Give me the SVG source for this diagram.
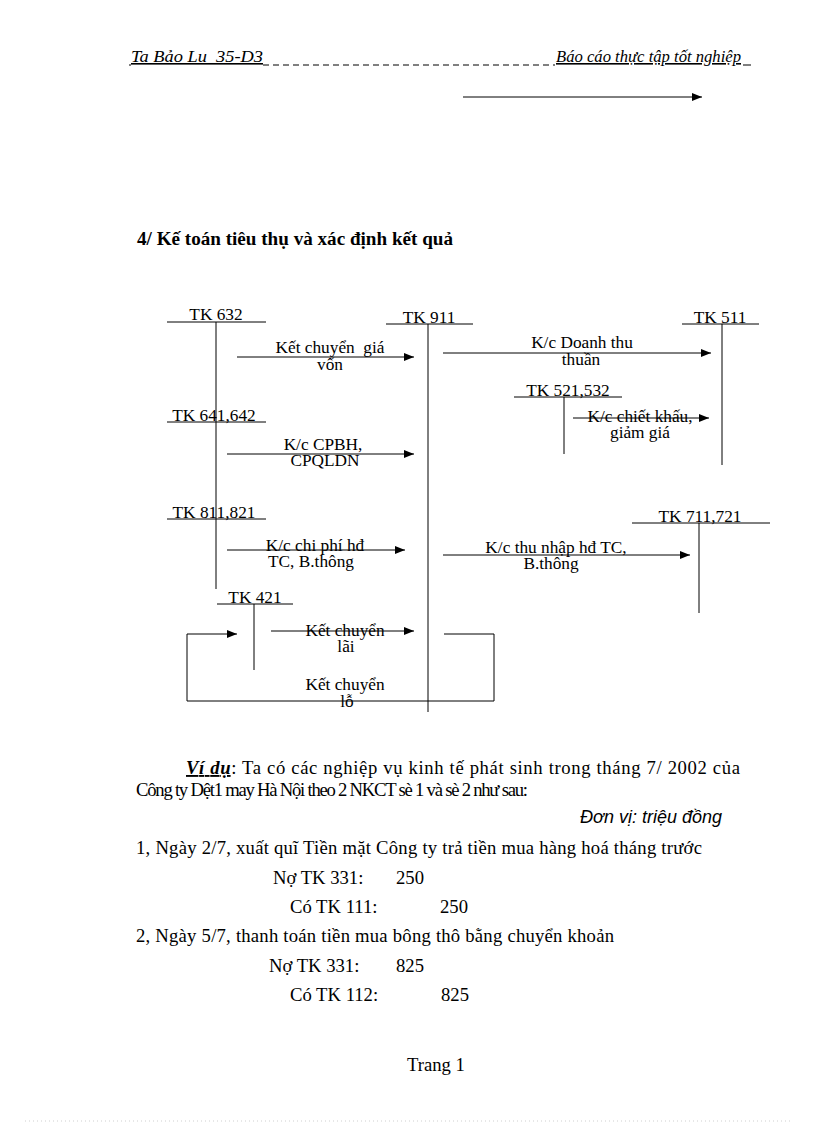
<svg xmlns="http://www.w3.org/2000/svg" width="816" height="1123" viewBox="0 0 816 1123">
<defs>
<marker id="ah" markerWidth="10" markerHeight="8" refX="10" refY="4" orient="auto" markerUnits="userSpaceOnUse">
<path d="M0,0 L10,4 L0,8 z" fill="#000"/>
</marker>
<style>
.t{font-family:"Liberation Serif","Times New Roman",serif;font-size:17.3px;fill:#000;text-anchor:middle;white-space:pre}
.b{font-family:"Liberation Serif","Times New Roman",serif;font-size:18.67px;fill:#000;white-space:pre}
.hd{font-family:"Liberation Serif","Times New Roman",serif;font-size:16px;font-style:italic;fill:#000;text-decoration:underline}
.ln{stroke:#000;stroke-width:1;fill:none}
.ac{stroke:#000;stroke-width:1;fill:none;marker-end:url(#ah)}
</style>
</defs>
<rect width="816" height="1123" fill="#fff"/>

<g id="header">
<text class="hd" x="131" y="62" textLength="132" lengthAdjust="spacingAndGlyphs" style="white-space:pre">Ta Bảo Lu  35-D3</text>
<line x1="263" y1="65" x2="555" y2="65" stroke="#000" stroke-width="1" stroke-dasharray="6,4"/>
<text class="hd" x="556" y="62" textLength="185" lengthAdjust="spacingAndGlyphs">Báo cáo thực tập tốt nghiệp</text>
<line x1="743" y1="65" x2="751" y2="65" stroke="#000" stroke-width="1"/>
<line x1="129" y1="65" x2="131" y2="65" stroke="#000" stroke-width="1"/>
</g>

<g id="top-arrow">
<line class="ac" x1="463" y1="97" x2="702" y2="97"/>
</g>

<text class="b" x="137" y="245" font-weight="bold" textLength="316" lengthAdjust="spacingAndGlyphs">4/ Kế toán tiêu thụ và xác định kết quả</text>

<g id="tk632">
<line class="ln" x1="167" y1="322" x2="266" y2="322"/>
<line class="ln" x1="216" y1="322" x2="216" y2="589"/>
<text class="t" x="216" y="320">TK 632</text>
</g>
<g id="tk911">
<line class="ln" x1="386" y1="324" x2="473" y2="324"/>
<line class="ln" x1="428" y1="324" x2="428" y2="712"/>
<text class="t" x="429" y="323">TK 911</text>
</g>
<g id="tk511">
<line class="ln" x1="682" y1="324" x2="759" y2="324"/>
<line class="ln" x1="722" y1="324" x2="722" y2="465"/>
<text class="t" x="720" y="323">TK 511</text>
</g>
<g id="tk521532">
<line class="ln" x1="514" y1="397" x2="622" y2="397"/>
<line class="ln" x1="564" y1="397" x2="564" y2="454"/>
<text class="t" x="568" y="396">TK 521,532</text>
</g>
<g id="tk641642">
<line class="ln" x1="167" y1="422" x2="266" y2="422"/>
<text class="t" x="214" y="421">TK 641,642</text>
</g>
<g id="tk811821">
<line class="ln" x1="167" y1="519" x2="266" y2="519"/>
<text class="t" x="214" y="518">TK 811,821</text>
</g>
<g id="tk711721">
<line class="ln" x1="632" y1="523" x2="770" y2="523"/>
<line class="ln" x1="699" y1="523" x2="699" y2="613"/>
<text class="t" x="700" y="522">TK 711,721</text>
</g>
<g id="tk421">
<line class="ln" x1="217" y1="604" x2="293" y2="604"/>
<line class="ln" x1="254" y1="604" x2="254" y2="670"/>
<text class="t" x="255" y="603">TK 421</text>
</g>

<g id="connectors">
<line class="ac" x1="237" y1="357" x2="414" y2="357"/>
<line class="ac" x1="227" y1="454" x2="414" y2="454"/>
<line class="ac" x1="227" y1="550" x2="405" y2="550"/>
<line class="ac" x1="271" y1="631" x2="414" y2="631"/>
<line class="ac" x1="443" y1="353" x2="711" y2="353"/>
<line class="ac" x1="573" y1="418" x2="709" y2="418"/>
<line class="ac" x1="443" y1="555" x2="690" y2="555"/>
<polyline class="ac" points="444,634 494,634 494,701 187,701 187,634 237,634"/>
</g>

<g id="labels">
<text class="t" x="330" y="353">Kết chuyển  giá</text>
<text class="t" x="330" y="370">vốn</text>
<text class="t" x="323" y="450">K/c CPBH,</text>
<text class="t" x="325" y="466">CPQLDN</text>
<text class="t" x="315" y="551">K/c chi phí hđ</text>
<text class="t" x="311" y="567">TC, B.thông</text>
<text class="t" x="345" y="636">Kết chuyển</text>
<text class="t" x="346" y="652">lãi</text>
<text class="t" x="345" y="690">Kết chuyển</text>
<text class="t" x="347" y="707">lỗ</text>
<text class="t" x="582" y="348">K/c Doanh thu</text>
<text class="t" x="581" y="365">thuần</text>
<text class="t" x="640" y="422">K/c chiết khấu,</text>
<text class="t" x="640" y="438">giảm giá</text>
<text class="t" x="556" y="553">K/c thu nhập hđ TC,</text>
<text class="t" x="551" y="569">B.thông</text>
</g>

<g id="body">
<text class="b" x="186" y="774" textLength="554" lengthAdjust="spacing"><tspan font-weight="bold" font-style="italic" text-decoration="underline">Ví dụ</tspan>: Ta có các nghiệp vụ kinh tế phát sinh trong tháng 7/ 2002 của</text>
<text class="b" x="136" y="796" textLength="392" lengthAdjust="spacing">Công ty Dệt1 may Hà Nội theo 2 NKCT sè 1 và sè 2 như sau:</text>
<text x="580" y="823" font-family="'Liberation Sans',Arial,sans-serif" font-style="italic" font-size="17.5" textLength="142" lengthAdjust="spacingAndGlyphs">Đơn vị: triệu đồng</text>
<text class="b" x="136" y="854" textLength="566" lengthAdjust="spacing">1, Ngày 2/7, xuất quĩ Tiền mặt Công ty trả tiền mua hàng hoá tháng trước</text>
<text class="b" x="273" y="884">Nợ TK 331:</text>
<text class="b" x="396" y="884">250</text>
<text class="b" x="290" y="913">Có TK 111:</text>
<text class="b" x="440" y="913">250</text>
<text class="b" x="136" y="942" textLength="478" lengthAdjust="spacing">2, Ngày 5/7, thanh toán tiền mua bông thô bằng chuyển khoản</text>
<text class="b" x="269" y="972">Nợ TK 331:</text>
<text class="b" x="396" y="972">825</text>
<text class="b" x="290" y="1001">Có TK 112:</text>
<text class="b" x="441" y="1001">825</text>
<text class="b" x="407" y="1071">Trang 1</text>
</g>

<line x1="25" y1="1121" x2="793" y2="1121" stroke="#cfcfcf" stroke-width="1" stroke-dasharray="1,3"/>
</svg>
